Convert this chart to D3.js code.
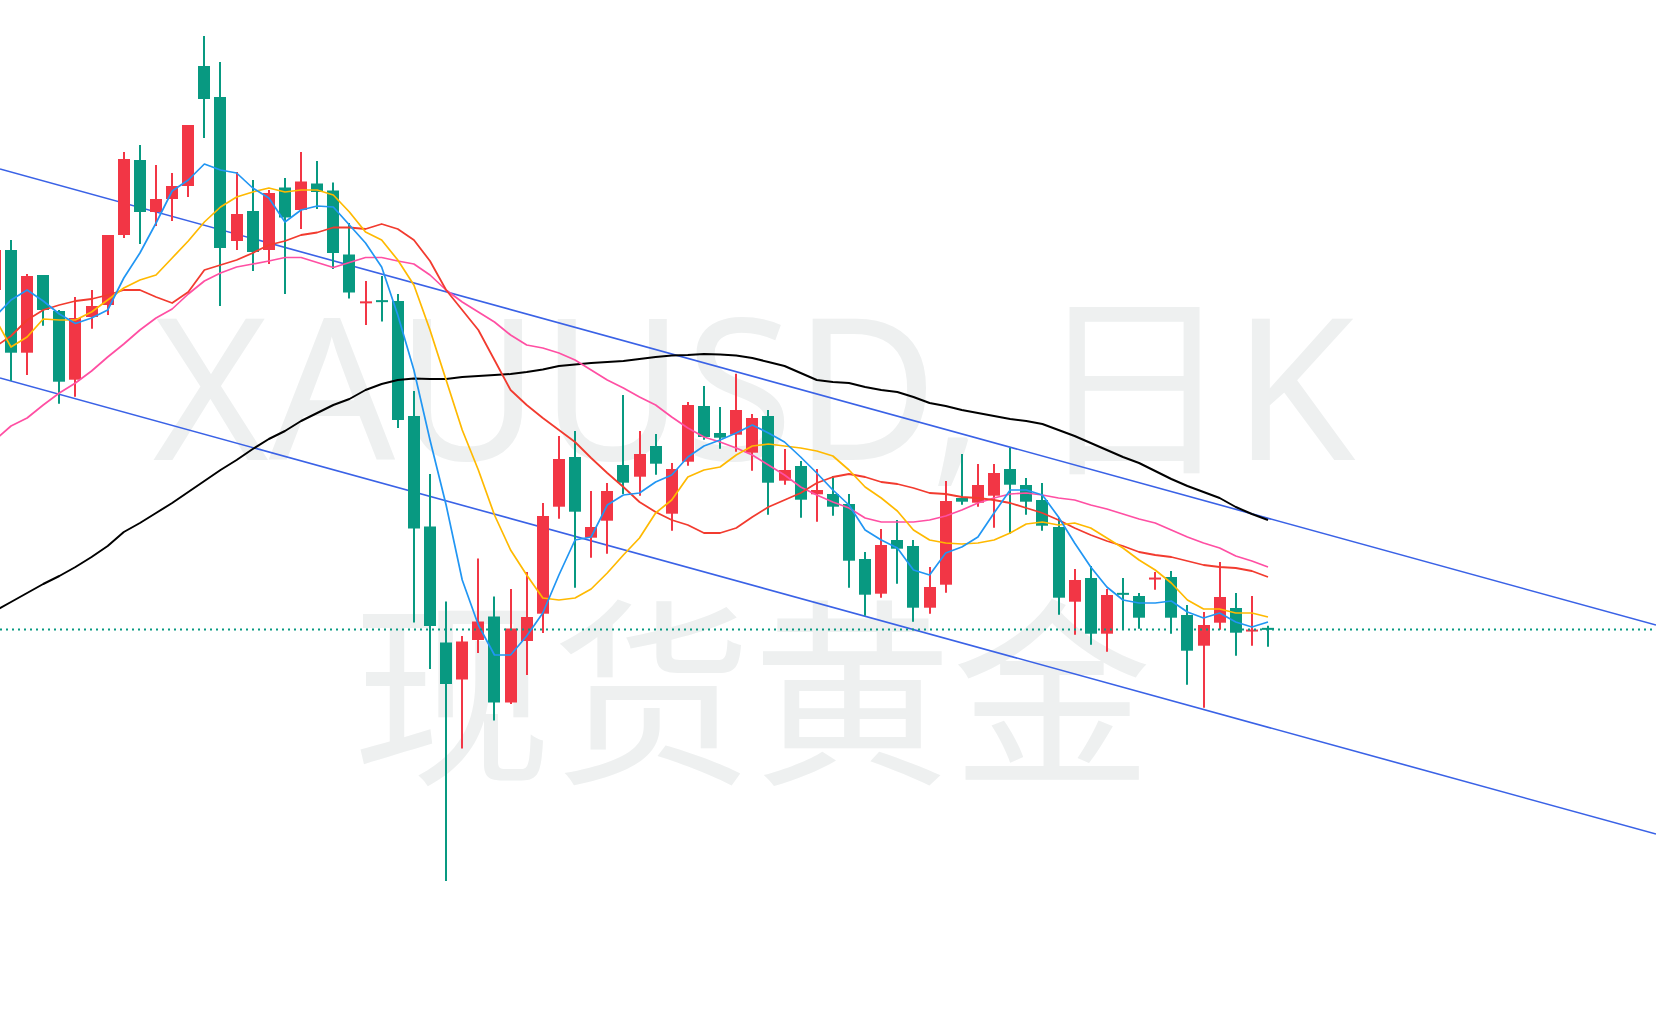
<!DOCTYPE html>
<html><head><meta charset="utf-8">
<script src="https://cdn.jsdelivr.net/npm/d3@7/dist/d3.min.js"></script>
<style>html,body{margin:0;padding:0;background:#fff;overflow:hidden}</style>
</head><body><div id="chart"></div>
<script>
// candle index (first one is the partially visible bar at the left edge)
const days = d3.range(-1, 79);
const opens = [4210,4250,4147.3,4225,4189,4120.3,4183,4195,4265,4340,4288,4301,4314,4434,4403,4259,4289,4250,4312.5,4290,4316.5,4309.5,4245.5,4197.5,4199,4199,4084,3973.5,3857.5,3820.5,3860,3883.5,3797.5,3859,3886.3,3993.3,4043,3962.3,3979.3,4035,4023.3,4054,3986.3,4038.3,4094,4067,4065.3,4047.3,4084,4019.3,4034,4005.7,4006,3996,3941,3906.3,3960,3954,3892.3,3915.3,4002,3997.3,4004.3,4031,4015,4000,3973,3898.3,3922,3866.3,3906.3,3904,3921.3,3923,3885,3854.3,3877.3,3892,3869.3,3871.3];
const highs = [4255,4260,4226,4225,4190,4203,4210,4265,4348,4355,4335,4327,4375,4464,4438,4328,4320,4310,4322,4348,4339,4317.5,4277,4219,4224,4206,4109,4026,3898.5,3864,3941.5,3903.5,3911,3928,3997,4064,4069,4009,4017,4105,4069,4066,4037,4098,4114,4093,4126.3,4086,4090,4051,4039,4031,4024,4006,3948,3971,3980,3960,3933,4019,4046,4036,4036,4052,4022,4017,3982.3,3931,3934,3911,3922,3907,3928,3929,3895,3888,3938,3907,3904,3874.3];
const lows = [4205,4119.3,4125,4174.3,4096.3,4103.3,4171.3,4185,4262,4256,4274,4279,4303,4362,4194,4250,4229,4236,4206,4271,4291,4231,4201.5,4175,4178.5,4072,3877.5,3831,3619,3751.5,3847,3779.5,3796,3825,3867,3981.3,3912.3,3942.3,3946.3,4006,4004.3,4025.3,3969.3,4034.3,4060.3,4051.3,4048.3,4029.3,3985.3,4015.3,3982.3,3978.3,3984.3,3912.3,3884.3,3902.3,3916.3,3878.3,3886.3,3907.3,3995.3,3993.3,3972.3,3966.3,3985.3,3969.3,3885.3,3865.3,3855.3,3848.3,3870.3,3871.3,3910.3,3866.3,3815.3,3792.3,3870.3,3844.3,3854.3,3853.3];
const closes = [4250,4147.3,4224,4190,4118.3,4182,4194,4265,4341,4288,4301,4314,4375,4401,4252,4286,4248,4307,4282.5,4318.5,4308,4247,4207.5,4197.8,4198.7,4080,3971.5,3874,3816,3858.5,3878.5,3797.5,3871.5,3883,3984,4041,3988.3,3973,4009,4017.3,4046,4036.3,4031,4095,4063,4062.3,4090,4082,4017.3,4030,4000.3,4010,3993.3,3939.3,3905.3,3955,3951.3,3892.3,3913,3999,3998.3,4015,4027,4015.3,3998.3,3974.3,3902.3,3920,3866.3,3905,3906,3882.3,3921.6,3882.3,3849.3,3875,3903,3867.3,3869.6,3871];
// moving averages
const ma5 = [4183,4200,4210,4199,4186,4176.5,4182,4190,4222,4247,4277,4309,4320,4336,4330,4327,4312,4302,4278,4290,4294,4293,4275,4257,4233,4185,4130,4060,3995,3920,3875,3845,3845,3864,3887,3925,3960,3963,3995,4005,4007,4018,4025,4043,4054,4060,4067,4075,4067,4058,4043,4027,4010,3995,3970,3960,3952,3930,3925,3947,3953,3963,3987,4010,4010,4005,3983,3957,3933,3913,3900,3897,3897,3899,3888,3882,3887,3878,3873,3878];
const ma10 = [4182,4153,4163,4181,4180,4180,4188,4200,4212,4220,4225,4242,4259,4278,4293,4303,4308,4312,4308,4310,4310,4305,4288,4268,4260,4240,4215,4170,4120,4070,4030,3985,3950,3925,3902,3900,3902,3911,3927,3945,3962,3987,4000,4023,4030,4033,4045,4054,4056,4054,4052,4049,4044,4030,4013,4002,3989,3970,3960,3957,3956,3957,3960,3967,3976,3978,3975,3977,3972,3962,3952,3940,3930,3917,3900,3891,3891,3887,3887,3883];
const ma20 = [4153,4164,4180,4190,4195,4199,4201,4205,4210,4210,4203,4197,4208,4230,4235,4240,4247,4255,4259,4265,4267.5,4272.5,4272.5,4271,4276,4271,4260,4239,4210,4190,4170,4140,4110,4095,4082,4070,4058,4042,4027,4013,3998,3988,3980,3975,3967,3967,3972,3983,3993,4000,4007,4017,4023,4026,4023,4018,4016,4012,4007,4006,4003,4002,4000,3997,3992,3987,3980,3972,3965,3959,3954,3948,3945,3943,3939,3935,3933,3932,3929,3923];
const ma30 = [4060,4074,4082,4095,4107,4117,4129,4143,4156,4170,4182,4191,4206,4219,4227,4233,4236,4239,4242.5,4242.5,4237.5,4232.5,4237.5,4242.5,4242.5,4239,4236,4225,4210,4198,4188,4178,4165,4155,4152,4147,4140,4130,4120,4112,4103,4095,4083,4072,4063,4058,4052,4045,4035,4025,4013,4005,3998,3992,3982,3978,3978,3978,3980,3984,3990,3997,4002,4006,4007,4005,4002,4000,3995,3991,3986,3981,3977,3970,3963,3957,3952,3944,3939,3933];
const ma60 = [3889,3898,3907,3916,3924,3933,3943,3954,3968,3977,3987,3997,4008,4019,4030,4040,4051,4061,4069,4079,4087,4095,4101,4110,4116,4120,4121.5,4121,4121,4123,4124,4125,4126,4128,4130.5,4134,4135.5,4137,4138,4139,4141,4143,4144.5,4145,4146,4145.5,4144.5,4142,4138,4134,4127,4120,4118,4117,4113,4110,4108,4103,4097,4094,4090,4087,4084,4081,4079,4076,4070,4064,4057,4050,4043,4037,4029,4021,4014,4008,4002,3993,3986,3980];
// channel lines: two anchor points each (day, price)
const upperChannel = [[0, 4328], [78, 3981.8]];
const lowerChannel = [[0, 4119], [78, 3772.8]];
const watermark1 = "XAUUSD, 日K";
const watermark2 = "现货黄金";

const W = 1656, H = 1020;
const UP = "#f23645", DOWN = "#089981";
const svg = d3.select("#chart").append("svg").attr("width", W).attr("height", H)
  .style("display","block").style("background","#fff");

const x = d3.scaleLinear().domain([0, 78]).range([11, 1268]);
const y = d3.scaleLinear().domain([3480, 4500]).range([H, 0]);

// watermark
svg.append("text").attr("x", 754).attr("y", 460).attr("text-anchor","middle")
  .attr("font-family","'Noto Sans','Noto Sans CJK SC',sans-serif").attr("font-size",198)
  .attr("fill","#eef0f0").text(watermark1);
svg.append("text").attr("x", 752).attr("y", 769).attr("text-anchor","middle")
  .attr("font-family","'Noto Sans CJK SC',sans-serif").attr("font-size",200)
  .attr("fill","#eef0f0").text(watermark2);

// channel
function extend(pts) {
  const i0 = x.invert(0), i1 = x.invert(W);
  const f = d3.scaleLinear().domain([pts[0][0], pts[1][0]]).range([pts[0][1], pts[1][1]]);
  return [[i0, f(i0)], [i1, f(i1)]];
}
[upperChannel, lowerChannel].forEach(p => {
  const e = extend(p);
  svg.append("line").attr("x1", x(e[0][0])).attr("y1", y(e[0][1]))
    .attr("x2", x(e[1][0])).attr("y2", y(e[1][1]))
    .attr("stroke", "#3a62e6").attr("stroke-width", 1.6);
});

const data = days.map((d, k) => ({d, o: opens[k], h: highs[k], l: lows[k], c: closes[k]}));

// candles
const g = svg.append("g");
g.selectAll(".wick").data(data).join("line")
  .attr("x1", d => Math.round(x(d.d))).attr("x2", d => Math.round(x(d.d)))
  .attr("y1", d => y(d.h)).attr("y2", d => y(d.l))
  .attr("stroke", d => d.c >= d.o ? UP : DOWN).attr("stroke-width", 2);
g.selectAll(".body").data(data).join("rect")
  .attr("x", d => Math.round(x(d.d)) - 6).attr("width", 12)
  .attr("y", d => { const t = y(Math.max(d.o, d.c)), b = y(Math.min(d.o, d.c)); return b - t < 2 ? (t + b) / 2 - 1 : t; })
  .attr("height", d => Math.max(2, Math.abs(y(d.o) - y(d.c))))
  .attr("fill", d => d.c >= d.o ? UP : DOWN);

// moving averages
const mas = [[ma60, "#000000", 2], [ma30, "#ff4fa3", 1.7], [ma20, "#f23b2f", 1.8], [ma10, "#ffb900", 1.7], [ma5, "#2196f3", 1.7]];
const lineGen = arr => d3.line().x((d, k) => x(days[k])).y(d => y(d))(arr);
mas.forEach(([arr, col, w]) => {
  svg.append("path").attr("d", lineGen(arr)).attr("fill","none")
    .attr("stroke", col).attr("stroke-width", w).attr("stroke-linejoin","round");
});

// last price dotted line
svg.append("line").attr("x1", 0).attr("x2", W)
  .attr("y1", Math.round(y(closes[closes.length - 1])) + 0.5).attr("y2", Math.round(y(closes[closes.length - 1])) + 0.5)
  .attr("stroke", DOWN).attr("stroke-width", 2).attr("stroke-dasharray", "2,4");
</script></body></html>
